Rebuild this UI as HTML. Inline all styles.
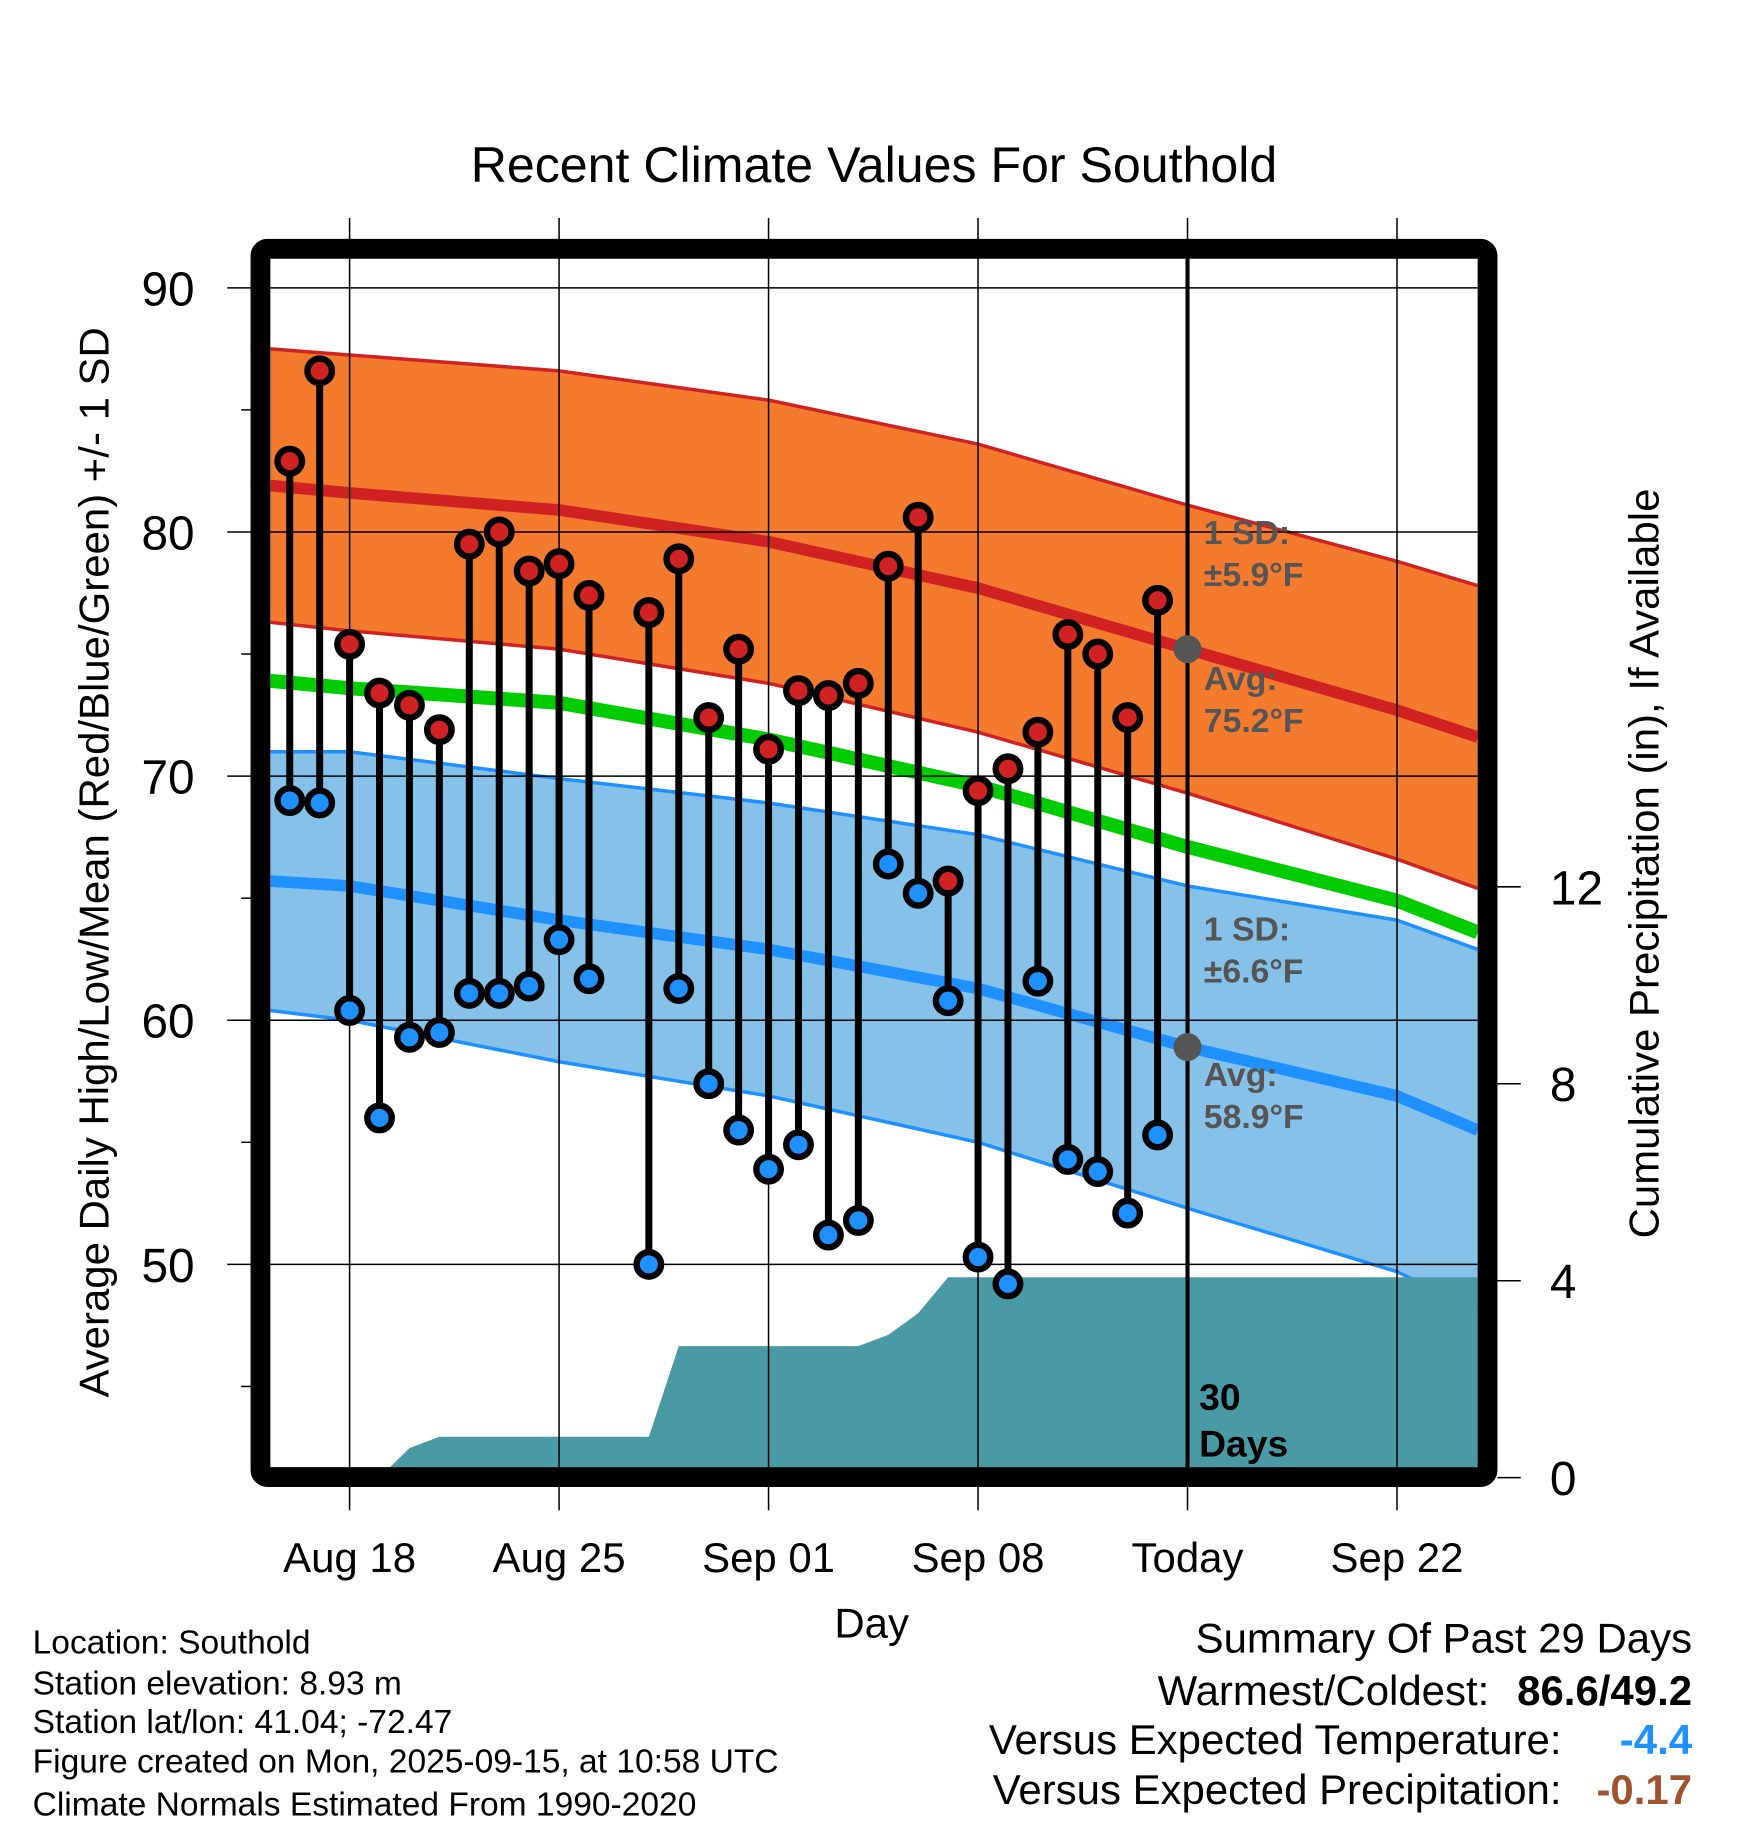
<!DOCTYPE html>
<html><head><meta charset="utf-8"><style>
html,body{margin:0;padding:0;background:#fff}
svg{display:block;font-family:"Liberation Sans",Arial,sans-serif}
</style></head><body>
<svg id="chart" width="1748" height="1828" viewBox="0 0 1500 1568.65" xmlns="http://www.w3.org/2000/svg">
<defs><clipPath id="plotclip"><rect x="232" y="222" width="1036" height="1037"/></clipPath></defs>
<text x="750" y="156" font-size="43" text-anchor="middle">Recent Climate Values For Southold</text>
<g id="plot" clip-path="url(#plotclip)"></g>
<g id="grid"></g>
<g id="marks" clip-path="url(#plotclip)"></g>
<rect x="223.5" y="213.5" width="1053" height="1054" rx="6" fill="none" stroke="#000" stroke-width="17"/>
<g id="axes"></g>
<text transform="translate(93,740) rotate(-90)" font-size="36" text-anchor="middle">Average Daily High/Low/Mean (Red/Blue/Green) +/- 1 SD</text>
<text transform="translate(1423,741) rotate(-90)" font-size="36" text-anchor="middle">Cumulative Precipitation (in), If Available</text>
<text x="748" y="1405" font-size="36" text-anchor="middle">Day</text>
<g font-size="29" font-weight="bold" fill="#555">
<text x="1033" y="467">1 SD:</text><text x="1033" y="503">±5.9°F</text>
<text x="1033" y="592">Avg:</text><text x="1033" y="628">75.2°F</text>
<text x="1033" y="807">1 SD:</text><text x="1033" y="843">±6.6°F</text>
<text x="1033" y="932">Avg:</text><text x="1033" y="968">58.9°F</text>
</g>
<g font-size="32" font-weight="bold"><text x="1029" y="1210">30</text><text x="1029" y="1250">Days</text></g>
<g font-size="28.8">
<text x="28" y="1419">Location: Southold</text>
<text x="28" y="1454">Station elevation: 8.93 m</text>
<text x="28" y="1487">Station lat/lon: 41.04; -72.47</text>
<text x="28" y="1521">Figure created on Mon, 2025-09-15, at 10:58 UTC</text>
<text x="28" y="1558">Climate Normals Estimated From 1990-2020</text>
</g>
<g font-size="36" text-anchor="end">
<text x="1452" y="1418">Summary Of Past 29 Days</text>
<text x="1278" y="1463">Warmest/Coldest:</text>
<text x="1452" y="1463" font-weight="bold">86.6/49.2</text>
<text x="1340" y="1505">Versus Expected Temperature:</text>
<text x="1452" y="1505" font-weight="bold" fill="#1e90ff">-4.4</text>
<text x="1340" y="1548">Versus Expected Precipitation:</text>
<text x="1452" y="1548" font-weight="bold" fill="#a0522d">-0.17</text>
</g>
</svg>
<script>
// day index relative to Aug 18
const obsDays = [-2,-1,0,1,2,3,4,5,6,7,8,10,11,12,13,14,15,16,17,18,19,20,21,22,23,24,25,26,27];
const highs = [82.9,86.6,75.4,73.4,72.9,71.9,79.5,80.0,78.4,78.7,77.4,76.7,78.9,72.4,75.2,71.1,73.5,73.3,73.8,78.6,80.6,65.7,69.4,70.3,71.8,75.8,75.0,72.4,77.2];
const lows = [69.0,68.9,60.4,56.0,59.3,59.5,61.1,61.1,61.4,63.3,61.7,50.0,61.3,57.4,55.5,53.9,54.9,51.2,51.8,66.4,65.2,60.8,50.3,49.2,61.6,54.3,53.8,52.1,55.3];
const precipDays = [-3,1,2,3,10,11,17,18,19,20,27,38];
const precipCum = [0,0,0.6,0.83,0.83,2.67,2.67,2.9,3.34,4.07,4.07,4.07];
const normDays = [-2.65,0,7,14,21,28,35,37.7];
const normHigh = [81.9,81.6,80.9,79.6,77.7,75.2,72.7,71.6];
const sdHigh = [5.6,5.65,5.7,5.8,5.9,5.9,6.1,6.2];
const normLow = [65.7,65.5,64.1,62.9,61.3,58.9,56.9,55.5];
const sdLow = [5.3,5.5,5.8,6.0,6.3,6.6,7.2,7.4];
const normMean = [73.9,73.6,73.0,71.5,69.6,67.1,64.9,63.6];
const tempTicks = [50,60,70,80,90];
const precipTicks = [0,4,8,12];
const xTickDays = [0,7,14,21,28,35];
const xTickLabels = ["Aug 18","Aug 25","Sep 01","Sep 08","Today","Sep 22"];
const todayDay = 28, todayHighAvg = 75.2, todayLowAvg = 58.9;

const X = d => 300 + d*25.68;
const Y = v => 1085 - (v-50)*20.95;
const YP = p => 1268 - p*42.25;
const NS = "http://www.w3.org/2000/svg";
function mk(tag, attrs, parent){const e=document.createElementNS(NS,tag);for(const k in attrs)e.setAttribute(k,attrs[k]);parent.appendChild(e);return e;}
const plot=document.getElementById('plot'), grid=document.getElementById('grid'), marks=document.getElementById('marks'), axes=document.getElementById('axes');

function band(mean, sd, fill, name){
  let pts=normDays.map((d,i)=>X(d)+','+Y(mean[i]+sd[i]));
  pts=pts.concat(normDays.map((d,i)=>X(d)+','+Y(mean[i]-sd[i])).reverse());
  const p=mk('polygon',{points:pts.join(' '),fill:fill},plot);
  
  
}
function line(vals, color, w, name){
  const p=mk('polyline',{points:normDays.map((d,i)=>X(d)+','+Y(vals[i])).join(' '),fill:'none',stroke:color,'stroke-width':w,'stroke-linejoin':'round'},plot);
  
  
}
band(normHigh,sdHigh,'#f47a2e','high-sd-band');
line(normHigh.map((v,i)=>v+sdHigh[i]),'#d02222',3,'high-upper-line');
line(normHigh.map((v,i)=>v-sdHigh[i]),'#d02222',3,'high-lower-line');
band(normLow,sdLow,'#85c1e9','low-sd-band');
line(normLow.map((v,i)=>v+sdLow[i]),'#1e90ff',3,'low-upper-line');
line(normLow.map((v,i)=>v-sdLow[i]),'#1e90ff',3,'low-lower-line');
line(normHigh,'#d02222',10,'avg-high-line');
line(normLow,'#1e90ff',10,'avg-low-line');
line(normMean,'#00cc00',12,'avg-mean-line');

{
  let pts=[X(precipDays[0])+','+YP(0)];
  precipDays.forEach((d,i)=>pts.push(X(d)+','+YP(precipCum[i])));
  pts.push(X(precipDays[precipDays.length-1])+','+YP(0));
  const p=mk('polygon',{points:pts.join(' '),fill:'#4a9aa5'},plot);
  
  
}

tempTicks.forEach(t=>{
  const l=mk('line',{x1:195,x2:1268,y1:Y(t),y2:Y(t),stroke:'#000','stroke-width':1.3},grid);
  
  
  const tx=mk('text',{x:167,y:Y(t)+15,'font-size':41,'text-anchor':'end'},axes);
  tx.textContent=t;
  
  
});
[45,55,65,75,85].forEach(t=>{
  const l=mk('line',{x1:207,x2:215,y1:Y(t),y2:Y(t),stroke:'#000','stroke-width':1.3},axes);
  
  
});
xTickDays.forEach((d,i)=>{
  const l=mk('line',{x1:X(d),x2:X(d),y1:187,y2:1296,stroke:'#000','stroke-width':1.3},grid);
  
  
  const tx=mk('text',{x:X(d),y:1349,'font-size':36,'text-anchor':'middle'},axes);
  tx.textContent=xTickLabels[i];
  
  
});
precipTicks.forEach(t=>{
  const l=mk('line',{x1:1285,x2:1305,y1:YP(t),y2:YP(t),stroke:'#000','stroke-width':1.3},axes);
  
  
  const tx=mk('text',{x:1330,y:YP(t)+15,'font-size':41},axes);
  tx.textContent=t;
  
  
});
{
  const l=mk('line',{x1:X(todayDay),x2:X(todayDay),y1:222,y2:1259,stroke:'#000','stroke-width':3.5},marks);
  
  
  [todayHighAvg,todayLowAvg].forEach(v=>{
    const c=mk('circle',{cx:X(todayDay),cy:Y(v),r:12,fill:'#555'},marks);
    
    
  });
}
obsDays.forEach((d,i)=>{
  const s=mk('line',{x1:X(d),x2:X(d),y1:Y(highs[i]),y2:Y(lows[i]),stroke:'#000','stroke-width':6},marks);
  
  
});
obsDays.forEach((d,i)=>{
  const h=mk('circle',{cx:X(d),cy:Y(highs[i]),r:10.5,fill:'#d02222',stroke:'#000','stroke-width':5.5},marks);
  
  
  const l=mk('circle',{cx:X(d),cy:Y(lows[i]),r:10.5,fill:'#1e90ff',stroke:'#000','stroke-width':5.5},marks);
  
  
});
</script>
</body></html>
